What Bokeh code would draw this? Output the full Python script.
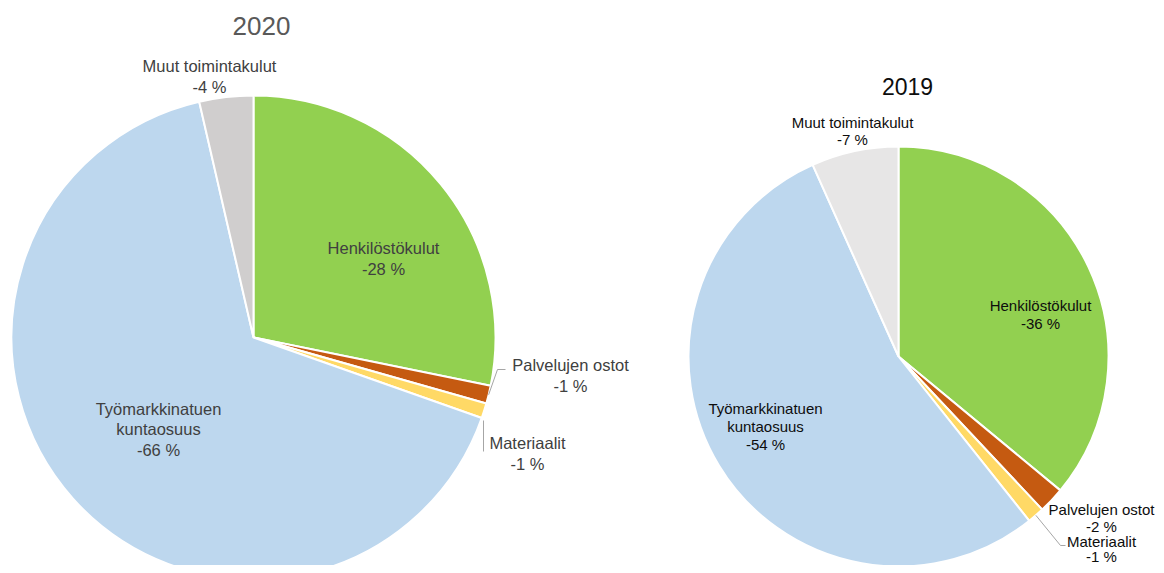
import math
from bokeh.plotting import figure
from bokeh.models import Range1d
from bokeh.core.properties import value
from bokeh.embed import file_html
from bokeh.resources import INLINE

# ---------------- data ----------------
categories = ["Henkilöstökulut", "Palvelujen ostot", "Materiaalit",
              "Työmarkkinatuen kuntaosuus", "Muut toimintakulut"]
label_lines = [["Henkilöstökulut"], ["Palvelujen ostot"], ["Materiaalit"],
               ["Työmarkkinatuen", "kuntaosuus"], ["Muut toimintakulut"]]
values_2020 = [28.2, 1.2, 1.0, 66.0, 3.6]
values_2019 = [36.0, 2.0, 1.3, 54.0, 6.7]
pct_2020 = ["-28 %", "-1 %", "-1 %", "-66 %", "-4 %"]
pct_2019 = ["-36 %", "-2 %", "-1 %", "-54 %", "-7 %"]
titles = ["2020", "2019"]

# ---------------- styles / layout ----------------
colors_2020 = ["#92d050", "#c55a11", "#ffd966", "#bdd7ee", "#d0cece"]
colors_2019 = ["#92d050", "#c55a11", "#ffd966", "#bdd7ee", "#e7e6e6"]
FONT = "Liberation Sans"
W, H = 1156, 565


def Y(ypx):
    return H - ypx


p = figure(width=W, height=H, output_backend="svg", toolbar_location=None,
           x_range=Range1d(0, W), y_range=Range1d(0, H),
           min_border=0, min_border_left=0, min_border_right=0,
           min_border_top=0, min_border_bottom=0)
p.axis.visible = False
p.grid.visible = False
p.outline_line_color = None
p.background_fill_color = "white"
p.border_fill_color = "white"


def draw_pie(cx, cy, r, vals, cols):
    total = sum(vals)
    cum = 0.0
    starts, ends = [], []
    for v in vals:
        starts.append(math.pi / 2 - 2 * math.pi * cum / total)
        cum += v
        ends.append(math.pi / 2 - 2 * math.pi * cum / total)
    p.wedge(x=[cx] * len(vals), y=[Y(cy)] * len(vals), radius=r,
            start_angle=starts, end_angle=ends, direction="clock",
            fill_color=cols, line_color="white", line_width=2)
    return starts, ends


def edge_point(cx, cy, r, a0, a1):
    a = (a0 + a1) / 2
    return cx + r * math.cos(a), Y(cy) + r * math.sin(a)


def txt(x, ypx, s, size, color, align="center"):
    p.text(x=[x], y=[Y(ypx)], text=[s], text_font=value(FONT),
           text_font_size=size, text_color=color, text_align=align,
           text_baseline="middle")


# ----- 2020 pie -----
c20 = (253, 337, 242)
s20, e20 = draw_pie(*c20, values_2020, colors_2020)
txt(261, 25, titles[0], "26px", "#595959")
col20 = "#404040"
fs20 = "16.5px"
# label positions: (x center, first line y, line spacing)
pos20 = [(383, 247, 21), (570, 364, 21), (527, 442, 21), (158, 408, 20.5), (209, 65, 21)]
for i, (lx, ly, dy) in enumerate(pos20):
    lines = label_lines[i] + [pct_2020[i]]
    for j, s in enumerate(lines):
        txt(lx, ly + j * dy, s, fs20, col20)
# leader lines 2020
px, py = edge_point(*c20, s20[1], e20[1])
p.line([px, 497, 505], [py, Y(369), Y(369)], line_color="#a6a6a6", line_width=1)
p.line([483, 483], [Y(420), Y(451)], line_color="#a6a6a6", line_width=1)

# ----- 2019 pie -----
c19 = (898, 356, 210)
s19, e19 = draw_pie(*c19, values_2019, colors_2019)
txt(907, 86, titles[1], "23px", "#0d0d0d")
col19 = "#0d0d0d"
fs19 = "15px"
pos19 = [(1040, 305, 18), (1101, 509, 17), (1101, 541, 15), (765, 408, 18), (852, 122, 17)]
for i, (lx, ly, dy) in enumerate(pos19):
    lines = label_lines[i] + [pct_2019[i]]
    for j, s in enumerate(lines):
        txt(lx, ly + j * dy, s, fs19, col19)
mx, my = edge_point(*c19, s19[2], e19[2])
p.line([mx, 1060, 1065], [my, Y(545), Y(545)], line_color="#a6a6a6", line_width=1)

open("out.html", "w").write(file_html(p, INLINE))
